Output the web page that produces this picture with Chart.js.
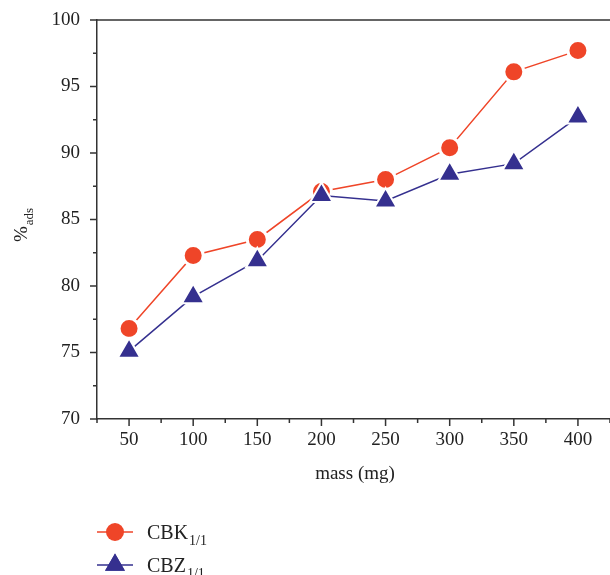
<!DOCTYPE html>
<html>
<head>
<meta charset="utf-8">
<script src="https://cdn.jsdelivr.net/npm/chart.js@4"></script>
<style>
  html, body { margin: 0; padding: 0; background: #fff; }
  #wrap { width: 610px; height: 575px; }
</style>
</head>
<body>
<div id="wrap"><canvas id="adsChart" width="610" height="575"></canvas></div>
<script>
const masses = [50, 100, 150, 200, 250, 300, 350, 400];
const cbkValues = [76.8, 82.3, 83.5, 87.1, 88.0, 90.4, 96.1, 97.7];
const cbzValues = [75.1, 79.2, 81.9, 86.8, 86.4, 88.4, 89.2, 92.7];
const yTicks = [70, 75, 80, 85, 90, 95, 100];

const RED = '#ef4528';
const BLUE = '#35308f';
const AXIS = '#333333';
const FONT = '"Liberation Serif", "DejaVu Serif", serif';

function toPoints(values) {
    return masses.map((m, i) => ({ x: m, y: values[i] }));
}

// text with a lowered, smaller suffix
function drawSubText(ctx, x, y, main, sub, size) {
    ctx.font = `${size}px ${FONT}`;
    ctx.fillText(main, x, y);
    const w = ctx.measureText(main).width;
    ctx.font = `${Math.round(size * 0.7)}px ${FONT}`;
    ctx.fillText(sub, x + w + 1, y + size * 0.3);
}

const framePlugin = {
    id: 'frame',
    beforeDatasetsDraw(chart) {
        const { ctx, chartArea, scales } = chart;
        const xs = scales.x, ys = scales.y;
        ctx.save();
        ctx.strokeStyle = AXIS;
        ctx.lineWidth = 1.5;
        ctx.beginPath();
        // top border
        ctx.moveTo(chartArea.left, chartArea.top);
        ctx.lineTo(chartArea.right, chartArea.top);
        // x ticks, long on the labelled values
        for (let v = 25; v <= 425; v += 25) {
            const px = xs.getPixelForValue(v);
            const len = v % 50 === 0 ? 7 : 4;
            ctx.moveTo(px, chartArea.bottom);
            ctx.lineTo(px, chartArea.bottom + len);
        }
        // y ticks
        for (let v = 70; v <= 100; v += 2.5) {
            const py = ys.getPixelForValue(v);
            const len = v % 5 === 0 ? 7 : 4;
            ctx.moveTo(chartArea.left, py);
            ctx.lineTo(chartArea.left - len, py);
        }
        ctx.stroke();
        ctx.restore();
    },
    afterDraw(chart) {
        const { ctx } = chart;
        ctx.save();
        ctx.fillStyle = '#222';
        ctx.textBaseline = 'alphabetic';

        // x axis title
        ctx.font = `19px ${FONT}`;
        ctx.textAlign = 'center';
        ctx.fillText('mass (mg)', 355, 479);

        // y axis title, rotated
        ctx.save();
        ctx.translate(27, 242);
        ctx.rotate(-Math.PI / 2);
        ctx.textAlign = 'left';
        drawSubText(ctx, 0, 0, '%', 'ads', 19);
        ctx.restore();

        // legend
        const rows = [
            { y: 532, color: RED, style: 'circle', main: 'CBK', sub: '1/1' },
            { y: 565, color: BLUE, style: 'triangle', main: 'CBZ', sub: '1/1' }
        ];
        rows.forEach(r => {
            ctx.strokeStyle = r.color;
            ctx.lineWidth = 1.5;
            ctx.beginPath();
            ctx.moveTo(97, r.y);
            ctx.lineTo(133, r.y);
            ctx.stroke();
            ctx.fillStyle = r.color;
            if (r.style === 'circle') {
                ctx.beginPath();
                ctx.arc(115, r.y, 9, 0, Math.PI * 2);
                ctx.fill();
            } else {
                Chart.helpers.drawPoint(ctx, { pointStyle: 'triangle', radius: 11.5, borderWidth: 0 }, 115, r.y);
                ctx.fill();
            }
            ctx.fillStyle = '#222';
            ctx.textAlign = 'left';
            drawSubText(ctx, 147, r.y + 7, r.main, r.sub, 20);
        });
        ctx.restore();
    }
};

new Chart(document.getElementById('adsChart'), {
    type: 'scatter',
    data: {
        datasets: [{
            label: 'CBK',
            order: 1,
            data: toPoints(cbkValues),
            showLine: true,
            borderColor: RED,
            borderWidth: 1.5,
            pointStyle: 'circle',
            pointRadius: 10,
            pointHoverRadius: 10,
            pointBackgroundColor: RED,
            pointBorderColor: '#fff',
            pointBorderWidth: 3
        }, {
            label: 'CBZ',
            order: 0,
            data: toPoints(cbzValues),
            showLine: true,
            borderColor: BLUE,
            borderWidth: 1.5,
            pointStyle: 'triangle',
            pointRadius: 13,
            pointHoverRadius: 13,
            pointBackgroundColor: BLUE,
            pointBorderColor: '#fff',
            pointBorderWidth: 2
        }]
    },
    options: {
        responsive: false,
        animation: false,
        events: [],
        layout: {
            autoPadding: false,
            padding: { top: 20, right: 0, left: 0, bottom: 0 }
        },
        plugins: {
            legend: { display: false },
            tooltip: { enabled: false }
        },
        scales: {
            x: {
                type: 'linear',
                min: 25,
                max: 425,
                afterFit(scale) {
                    scale.height = 156;
                    scale.paddingLeft = 0;
                    scale.paddingRight = 0;
                },
                afterBuildTicks(scale) {
                    scale.ticks = [];
                    for (let v = 25; v <= 425; v += 25) scale.ticks.push({ value: v });
                },
                grid: { display: true, drawOnChartArea: false, drawTicks: false },
                border: { display: true, color: AXIS, width: 1.5 },
                ticks: {
                    autoSkip: false,
                    maxRotation: 0,
                    padding: 10,
                    color: '#222',
                    font: { family: FONT, size: 19 },
                    callback: v => (v % 50 === 0 && masses.includes(v)) ? String(v) : ''
                }
            },
            y: {
                min: 70,
                max: 100,
                afterFit(scale) {
                    scale.width = 97;
                    scale.paddingTop = 0;
                    scale.paddingBottom = 0;
                },
                afterBuildTicks(scale) {
                    scale.ticks = yTicks.map(v => ({ value: v }));
                },
                grid: { display: true, drawOnChartArea: false, drawTicks: false },
                border: { display: true, color: AXIS, width: 1.5 },
                ticks: {
                    padding: 17,
                    color: '#222',
                    font: { family: FONT, size: 19 }
                }
            }
        }
    },
    plugins: [framePlugin]
});
</script>
</body>
</html>
